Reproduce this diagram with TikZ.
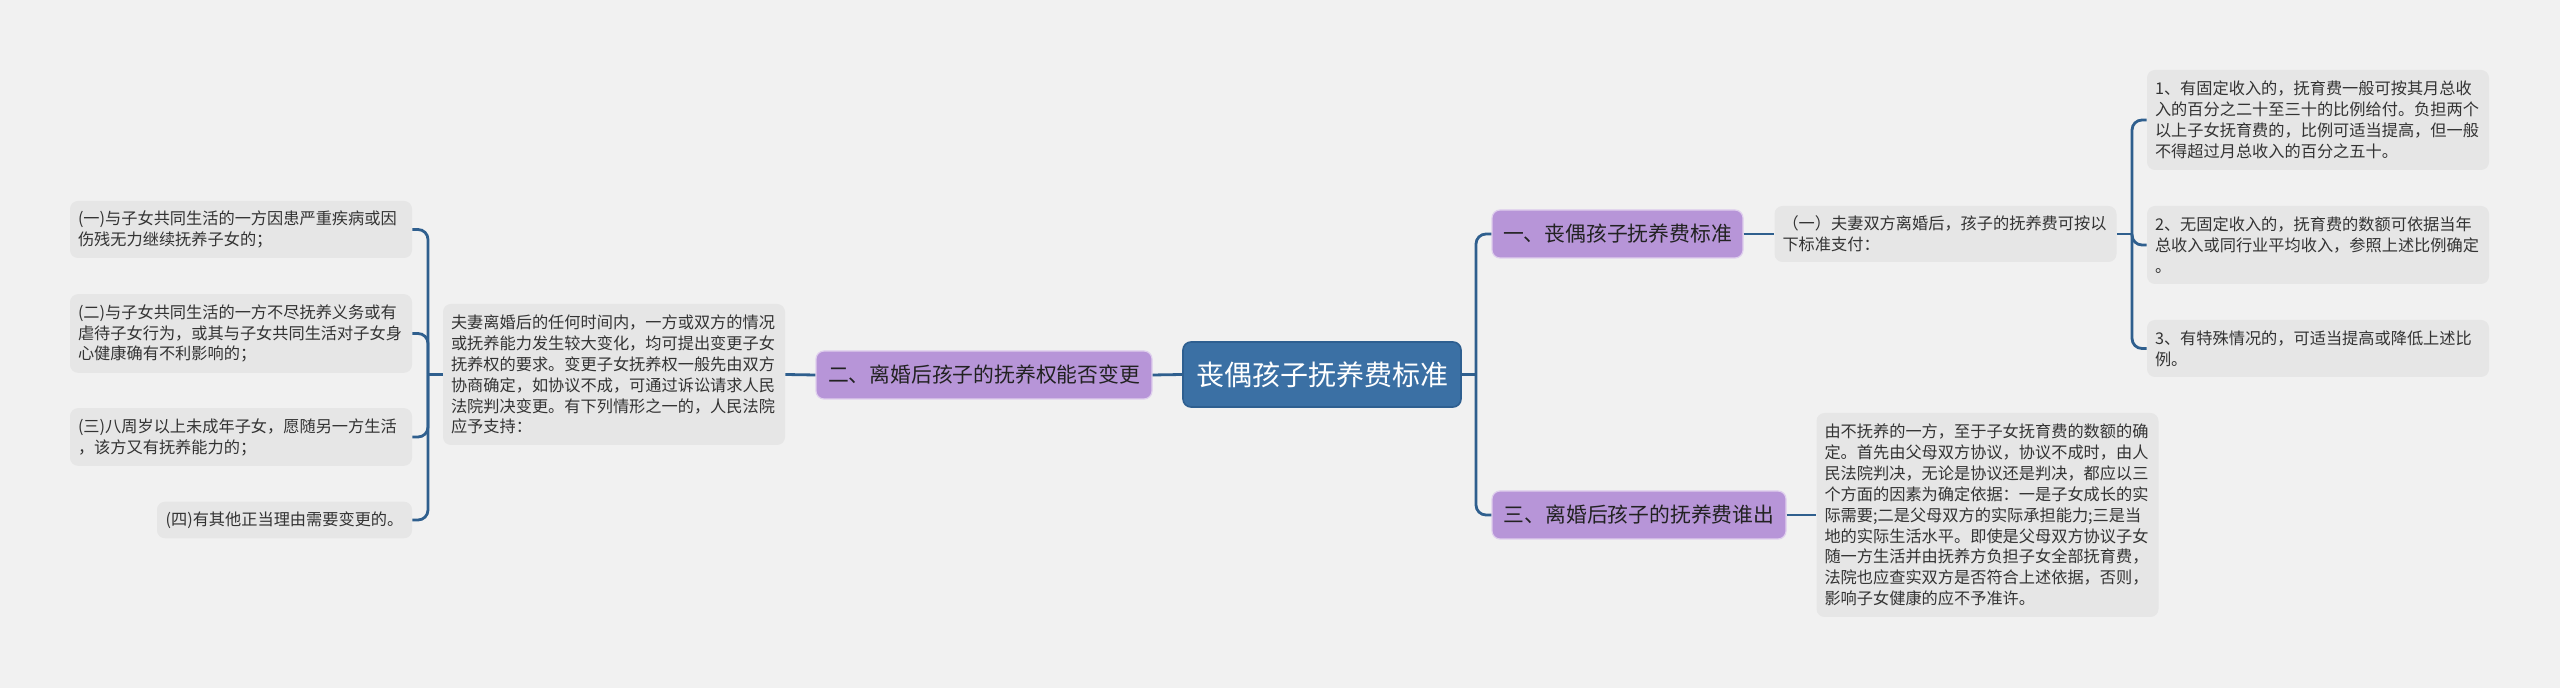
\documentclass[tikz,border=0pt]{standalone}
\usepackage{fontspec}
\newfontfamily\cjk{Noto Sans CJK SC}
\definecolor{bgc}{HTML}{F1F1F1}
\definecolor{leafc}{HTML}{E6E6E6}
\definecolor{purp}{HTML}{B795D8}
\definecolor{rootc}{HTML}{3B70A4}
\definecolor{rootb}{HTML}{2E5F90}
\definecolor{linec}{HTML}{2F5F8E}
\definecolor{textc}{HTML}{333333}
\definecolor{darktext}{HTML}{222222}
\tikzset{
  leaf/.style={fill=leafc, rounded corners=4pt, inner xsep=4pt, inner ysep=2pt,
    font=\cjk\fontsize{8.1}{10.45}\selectfont, text=textc, align=left, text width=163pt},
  topic/.style={fill=purp, draw=white!55!purp, line width=0.6pt, rounded corners=4pt, inner sep=0pt,
    font=\cjk\fontsize{10.4}{12}\selectfont, text=darktext, minimum height=24pt},
  root/.style={fill=rootc, draw=rootb, line width=0.8pt, rounded corners=4pt, inner sep=0pt,
    font=\cjk\fontsize{14}{16}\selectfont, text=white},
  conn/.style={draw=linec, line width=1.4pt, rounded corners=5pt}
}
\begin{document}
\begin{tikzpicture}[x=0.5pt,y=-0.5pt]
\fill[bgc] (0,0) rectangle (2560,688);
\useasboundingbox (0,0) rectangle (2560,688);

% root and topics
\node[root, minimum width=139pt, minimum height=32.5pt] (C) at (1322,374.5) {丧偶孩子抚养费标准};
\node[topic, minimum width=168pt] (N2) at (984,375) {二、离婚后孩子的抚养权能否变更};
\node[topic, minimum width=125.5pt] (N1) at (1617.5,234) {一、丧偶孩子抚养费标准};
\node[topic, minimum width=147pt] (N3) at (1639,515) {三、离婚后孩子的抚养费谁出};

% left side
\node[leaf, minimum height=70.5pt] (T2) at (614,374.5) {夫妻离婚后的任何时间内，一方或双方的情况\\或抚养能力发生较大变化，均可提出变更子女\\抚养权的要求。变更子女抚养权一般先由双方\\协商确定，如协议不成，可通过诉讼请求人民\\法院判决变更。有下列情形之一的，人民法院\\应予支持：};
\node[leaf, minimum height=28.5pt] (L1) at (241,229.5) {(一)与子女共同生活的一方因患严重疾病或因\\伤残无力继续抚养子女的；};
\node[leaf, minimum height=39.3pt] (L2) at (241,333.5) {(二)与子女共同生活的一方不尽抚养义务或有\\虐待子女行为，或其与子女共同生活对子女身\\心健康确有不利影响的；};
\node[leaf, minimum height=28.8pt] (L3) at (241,437) {(三)八周岁以上未成年子女，愿随另一方生活\\，该方又有抚养能力的；};
\node[leaf, text width=, align=center, minimum width=127.5pt, minimum height=18.3pt] (L4) at (284.5,520) {(四)有其他正当理由需要变更的。};

% right side
\node[leaf, minimum height=28pt] (T1) at (1945.5,234) {（一）夫妻双方离婚后，孩子的抚养费可按以\\下标准支付：};
\node[leaf, minimum height=50pt] (R1) at (2318,120) {1、有固定收入的，抚育费一般可按其月总收\\入的百分之二十至三十的比例给付。负担两个\\以上子女抚育费的，比例可适当提高，但一般\\不得超过月总收入的百分之五十。};
\node[leaf, minimum height=39pt] (R2) at (2318,245) {2、无固定收入的，抚育费的数额可依据当年\\总收入或同行业平均收入，参照上述比例确定\\。};
\node[leaf, minimum height=28.5pt] (R3) at (2318,348.5) {3、有特殊情况的，可适当提高或降低上述比\\例。};
\node[leaf, minimum height=102pt] (T3) at (1987.5,515) {由不抚养的一方，至于子女抚育费的数额的确\\定。首先由父母双方协议，协议不成时，由人\\民法院判决，无论是协议还是判决，都应以三\\个方面的因素为确定依据：一是子女成长的实\\际需要;二是父母双方的实际承担能力;三是当\\地的实际生活水平。即使是父母双方协议子女\\随一方生活并由抚养方负担子女全部抚育费，\\法院也应查实双方是否符合上述依据，否则，\\影响子女健康的应不予准许。};

% connectors
\coordinate (rt) at (1476,374.5);
\draw[conn] (C.east) -- (rt);
\draw[conn] (N1.west) -| (rt) |- (N3.west);
\draw[conn] (N2.east) -- (C.west);
\draw[conn] (T2.east) -- (N2.west);
\coordinate (lt) at (428,374.5);
\draw[conn] (T2.west) -- (lt);
\draw[conn] (L1.east) -| (lt) |- (L4.east);
\draw[conn] (lt) |- (L2.east);
\draw[conn] (lt) |- (L3.east);
\draw[conn] (N1.east) -- (T1.west);
\coordinate (rt2) at (2132,234);
\draw[conn] (T1.east) -- (rt2);
\draw[conn] (R1.west) -| (rt2) |- (R3.west);
\draw[conn] (rt2) |- (R2.west);
\draw[conn] (N3.east) -- (T3.west);
\end{tikzpicture}
\end{document}
